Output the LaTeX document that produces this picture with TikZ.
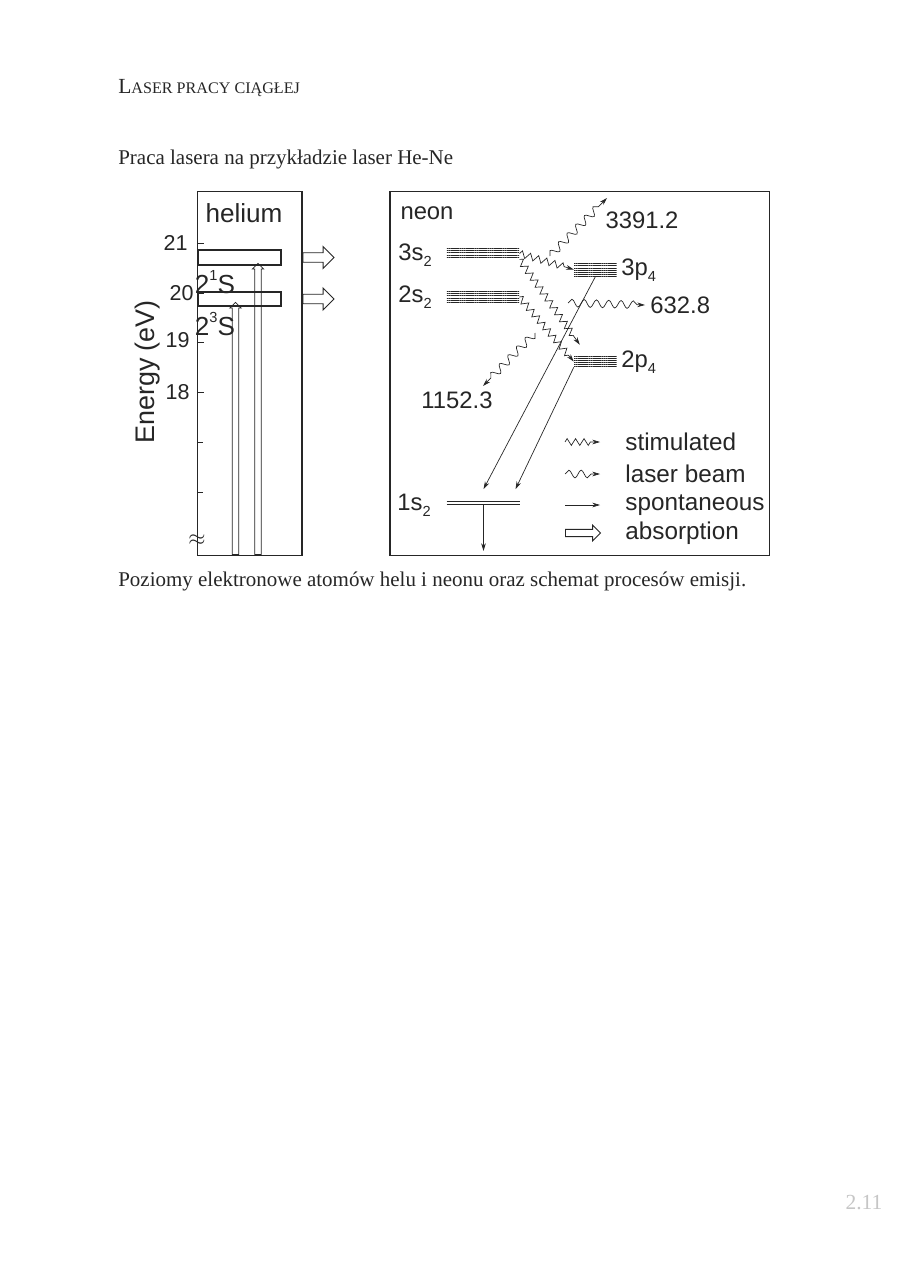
\documentclass[tikz,border=0pt]{standalone}
\usepackage{fontspec}
\setmainfont{Liberation Serif}
\newfontfamily\arial{Liberation Sans}
\usepackage{tikz}
\usetikzlibrary{arrows.meta,decorations.pathmorphing,patterns.meta,shapes.arrows}
\definecolor{ink}{HTML}{262626}
\newcommand\sublabel[1]{\raisebox{-0.45ex}{\fontsize{9.5}{10}\selectfont#1}}
\newcommand\suplabel[1]{\raisebox{0.95ex}{\fontsize{9.5}{10}\selectfont#1}}
\tikzset{frame/.style={draw=ink,line width=0.7pt,inner sep=0pt},serif/.style={font=\rmfamily\fontsize{13.65}{17}\selectfont,text=ink,inner sep=0pt,anchor=base west},spont/.style={-{Stealth[length=5pt,width=3pt]},draw=ink,line width=0.45pt},absorb/.style={single arrow,draw=ink,line width=0.6pt,inner sep=2.8pt,minimum width=0pt,single arrow head extend=4pt,anchor=tail}}

\begin{document}
\begin{tikzpicture}[x=0.02288cm,y=-0.02288cm,font=\arial\fontsize{15.5}{18}\selectfont,text=ink,level/.style={inner sep=0pt,pattern={Lines[angle=0,distance=1.4pt,line width=0.6pt]},pattern color=ink},hlev/.style={draw=ink,line width=0.8pt,inner sep=0pt},stim/.style={-{Stealth[length=5pt,width=3pt]},draw=ink,line width=0.45pt,decorate,decoration={zigzag,amplitude=2.2pt,segment length=5.5pt,post length=5pt}},beam/.style={-{Stealth[length=5pt,width=3pt]},draw=ink,line width=0.45pt,decorate,decoration={snake,amplitude=2.5pt,segment length=8pt,post length=5pt}},habs/.style={absorb,rotate=90,inner sep=1.8pt,single arrow head extend=1.6pt,line width=0.5pt},ticklab/.style={anchor=east,font=\arial\fontsize{14}{16}\selectfont},big/.style={font=\arial\fontsize{17}{20}\selectfont},lg/.style={anchor=west,font=\arial\fontsize{15.8}{18}\selectfont}]
\path[use as bounding box,fill=white] (0,0) rectangle (918,1264);
\node[serif] (header) at (118,94) {{\fontsize{14}{17}\selectfont L}{\fontsize{10.5}{12}\selectfont ASER PRACY CIĄGŁEJ}};
\node[serif] (title) at (118,165) {Praca lasera na przykładzie laser He-Ne};
\node[serif] (caption) at (118,586) {Poziomy elektronowe atomów helu i neonu oraz schemat procesów emisji.};
\node[text=gray!45,font=\rmfamily\fontsize{14}{17}\selectfont] (page) at (864,1203) {2.11};
% helium
\node[frame,minimum width=2.40cm,minimum height=8.31cm] (heBox) at (249.5,373.5) {};
\node[big] (helium) at (244,213) {helium};
\node[hlev,minimum width=1.9cm,minimum height=0.34cm] (he1) at (239.5,257.5) {};
\node[hlev,minimum width=1.9cm,minimum height=0.32cm] (he3) at (239.5,299) {};
\node[big] (he1lab) at (215,282) {2\suplabel{1}S};
\node[big] (he3lab) at (215,324) {2\suplabel{3}S};
\node[rotate=90,font=\arial\fontsize{17.5}{20}\selectfont] (energy) at (148,372) {Energy (eV)};
\node[ticklab] (t21) at (193,243) {21};
\node[ticklab] (t20) at (199,293) {20};
\node[ticklab] (t19) at (195,340) {19};
\node[ticklab] (t18) at (195,392) {18};
\node (brk) at (197,540) {$\approx$};
\draw[ink,line width=0.6pt] (197,243)--(204,243) (197,293)--(204,293) (197,342)--(204,342) (197,392)--(204,392) (197,442)--(203,442) (197,492)--(203,492);
\node[habs,minimum height=5.77cm] (up3) at (235.5,555) {};
\node[habs,minimum height=6.66cm] (up1) at (258,555) {};
\node[absorb,minimum height=0.71cm] (out1) at (heBox.east |- he1) {};
\node[absorb,minimum height=0.71cm] (out3) at (heBox.east |- he3) {};
% neon
\node[frame,minimum width=8.67cm,minimum height=8.31cm] (neBox) at (579.5,373.5) {};
\node (neon) at (427,213) {neon};
\node[level,minimum width=1.65cm,minimum height=0.25cm] (s3) at (483,253.5) {};
\node[level,minimum width=1.65cm,minimum height=0.23cm] (s2) at (483,297) {};
\node[level,minimum width=0.98cm,minimum height=0.30cm] (p3) at (595.5,269.5) {};
\node[level,minimum width=0.98cm,minimum height=0.25cm] (p2) at (595.5,361.5) {};
\node[inner sep=0pt,minimum width=1.67cm,minimum height=0.07cm] (s1) at (483.5,503) {};
\draw[ink,line width=0.6pt] (s1.north west)--(s1.north east) (s1.south west)--(s1.south east);
\node (s3lab) at (415,255) {3s\sublabel{2}};
\node (s2lab) at (415,297) {2s\sublabel{2}};
\node (s1lab) at (414,505) {1s\sublabel{2}};
\node[anchor=west] (p3lab) at (616,270) {3p\sublabel{4}};
\node[anchor=west] (p2lab) at (616,362) {2p\sublabel{4}};
\node (w3391) at (642,220) {3391.2};
\node[anchor=west] (w632) at (645,305) {632.8};
\node (w1152) at (457,400) {1152.3};
\draw[stim] (s3.east)--(p3.west);
\draw[stim] (s3.south east)--([shift={(6,-11)}]p2.north west);
\draw[stim] (s2.east)--(p2.west);
\coordinate (b3391) at (550,256); \coordinate (e3391) at (607,198);
\coordinate (b632) at (568,303);
\coordinate (b1152) at (535,333); \coordinate (e1152) at (483,386);
\draw[beam] (b3391)--(e3391); \draw[beam] (b632)--(w632.west); \draw[beam] (b1152)--(e1152);
\coordinate (gnd) at (483.5,551);
\draw[spont] (p3.south)--([shift={(0,-12)}]s1.north);
\draw[spont] (p2.south west)--([shift={(32,-12)}]s1.north);
\draw[spont] (s1.south)--(gnd);
% legend
\node[lg] (lgStim) at (620,442) {stimulated};
\node[lg] (lgBeam) at (620,474) {laser beam};
\node[lg] (lgSpont) at (620,505) {spontaneous};
\node[lg] (lgAbs) at (620,533) {absorption};
\draw[stim] ([shift={(-55,0)}]lgStim.west)--([shift={(-20,0)}]lgStim.west);
\draw[beam] ([shift={(-55,0)}]lgBeam.west)--([shift={(-20,0)}]lgBeam.west);
\draw[spont] ([shift={(-55,0)}]lgSpont.west)--([shift={(-20,0)}]lgSpont.west);
\node[absorb,inner sep=2.1pt,single arrow head extend=2.7pt,minimum height=0.8cm] (lgAbsArrow) at ([shift={(-55,0)}]lgAbs.west) {};
\end{tikzpicture}
\end{document}
